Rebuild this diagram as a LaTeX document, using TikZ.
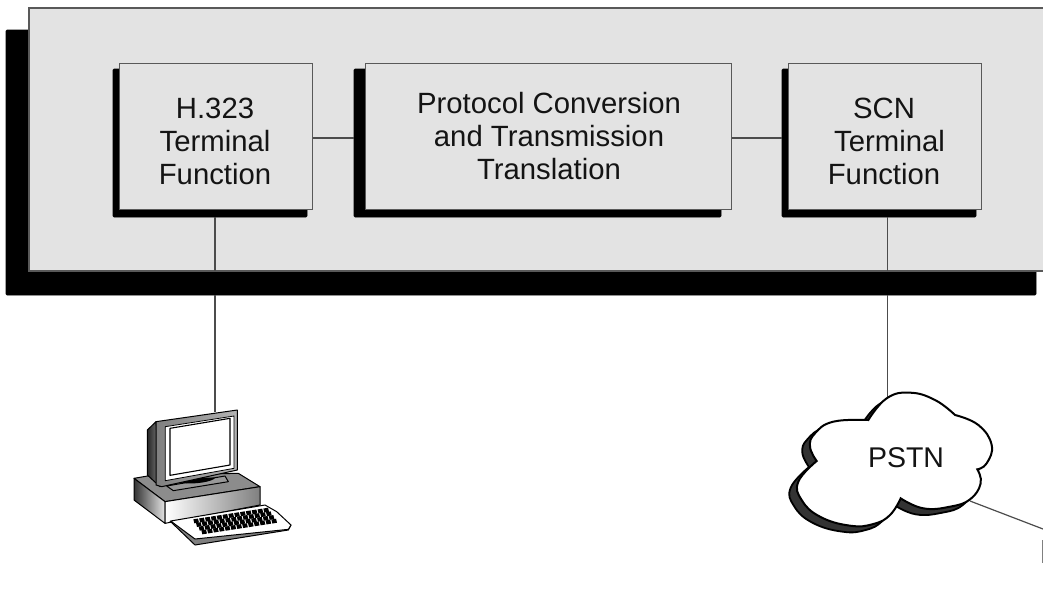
\documentclass[tikz,border=0pt]{standalone}
\usepackage{fontspec}
\setmainfont{Liberation Sans}
\begin{document}
\begin{tikzpicture}[x=1pt,y=-1pt,
  panel/.style={draw=black!65,line width=1.3pt,fill=black!11},
  shadowbox/.style={fill=black,draw=black,line width=.6pt,rounded corners=1pt},
  conn/.style={draw=black!70,line width=1.2pt},
  lbl/.style={align=center,inner sep=0pt,font=\fontsize{29.3}{33}\selectfont,text=black!92},
  boxn/.style={panel,inner sep=0pt,anchor=north west},
]
\useasboundingbox (0,0) rectangle (1043,605);
% panel
\path[shadowbox] (6,30) rectangle (1036,295);
\path[panel] (29,8) rectangle (1046,271);
% box shadows
\path[shadowbox] (113,69) rectangle (307,217);
\path[shadowbox] (354,69) rectangle (721,217);
\path[shadowbox] (782,69) rectangle (976,217);
% boxes
\node[boxn,minimum width=193pt,minimum height=146pt] (h) at (119,63) {};
\node[boxn,minimum width=366pt,minimum height=146pt] (p) at (365,63) {};
\node[boxn,minimum width=193pt,minimum height=146pt] (s) at (788,63) {};
\node[lbl] (ht) at (215,141) {H.323\\Terminal\\Function};
\node[lbl] (pt) at (549,136.5) {Protocol Conversion\\and Transmission\\Translation};
\node[lbl] (st) at (884,141) {SCN\\\hspace*{11pt}Terminal\\Function};
% connector anchors
\coordinate (hb) at (215,217);
\coordinate (sb) at (887.5,217);
\coordinate (hp) at (215,271);
\coordinate (sp) at (887.5,271);
\coordinate (hq) at (215,295);
\coordinate (sq) at (887.5,295);
\coordinate (pl) at (354,138);
\coordinate (sl) at (782,138);
\coordinate (pc) at (215,412);
\coordinate (ct) at (887.5,397);
\coordinate (cr) at (970,501);
\coordinate (ed) at (1043,529);
\draw[conn] (h.east|-pl) -- (pl);
\draw[conn] (p.east|-sl) -- (sl);
\draw[conn] (hb) -- (hp);
\draw[conn] (sb) -- (sp);
\draw[conn] (hq) -- (pc);
\draw[conn] (sq) -- (ct);
\draw[conn] (cr) -- (ed);
\draw[draw=black!50,line width=1.2pt] (1042.4,540) -- (1042.4,563);
% cloud
\begin{scope}[shift={(770,380)},x=.33333pt,y=-.33333pt]
 \def\cloudpath{(295,120) -- plot[smooth,tension=.75] coordinates {(295,120) (350,55) (420,38) (495,60) (555,105)}
   -- plot[smooth,tension=.75] coordinates {(555,105) (625,135) (665,195) (650,250) (622,268)}
   -- plot[smooth,tension=.75] coordinates {(622,268) (632,310) (600,358) (540,380) (460,385) (392,355)}
   -- plot[smooth,tension=.75] coordinates {(392,355) (360,405) (310,432) (240,437) (150,410) (95,360) (85,305) (140,243)}
   -- plot[smooth,tension=.75] coordinates {(140,243) (120,200) (135,160) (190,125) (295,120)} -- cycle}
 \begin{scope}[shift={(-23,18)}]
  \path[draw=black,fill=black!80,line width=1.8pt] \cloudpath;
 \end{scope}
 \path[draw=black,fill=white,line width=2pt] \cloudpath;
\end{scope}
\node[inner sep=0pt,font=\fontsize{28.5}{33}\selectfont,text=black!92] (pstn) at (906,458) {PSTN};
% computer
\begin{scope}[shift={(110,390)},x=.33333pt,y=-.33333pt,line join=round]
 % base
 \path[draw=black,line width=1pt,fill=black!45] (72,265) -- (130,255) -- (385,250) -- (450,290) -- (165,335) -- cycle;
 \path[draw=black,line width=1pt,left color=black!80,right color=black!10] (72,265) -- (165,335) -- (165,400) -- (72,330) -- cycle;
 \path[draw=black,line width=1pt,left color=white,right color=black!50] (165,335) -- (450,290) -- (450,345) -- (165,400) -- cycle;
 % monitor
 \path[draw=black,line width=1pt,left color=black!85,right color=black!50] (112,120) -- (138,95) -- (150,290) -- (112,255) -- cycle;
 \path[draw=black,line width=1pt,fill=black!40] (170,288) -- (345,258) -- (355,275) -- (190,302) -- cycle;
 \fill[black] (215,278) .. controls (240,262) and (290,262) .. (316,263) .. controls (310,275) and (250,285) .. (215,278) -- cycle;
 \path[draw=black,line width=1pt,left color=black!50,right color=black!30] (138,95) -- (382,60) -- (382,240) -- (155,290) -- (138,285) -- cycle;
 \path[draw=black,line width=.8pt,fill=white] (166,110) -- (372,78) -- (372,235) -- (166,272) -- cycle;
 \path[draw=black,line width=1.1pt,fill=white] (180,115) -- (360,85) -- (360,225) -- (180,256) -- cycle;
 % keyboard
 \path[draw=black,line width=1pt,fill=black!50] (182,395) -- (255,465) -- (535,420) -- (543,405) -- (180,395) -- cycle;
 \path[draw=black,line width=1pt,fill=white] (182,393) -- (465,345) -- (500,365) -- (543,405) -- (535,418) -- (255,447) -- cycle;
 \foreach \r in {0,1,2,3} {
  \foreach \c in {0,...,12} {
   \fill[black] ({250+\r*8+\c*17.5},{388+\r*11-\c*2.7}) -- ++(14,-2.4) -- ++(3,12) -- ++(-14,2.4) -- cycle;
  }
 }
\end{scope}
\end{tikzpicture}
\end{document}
